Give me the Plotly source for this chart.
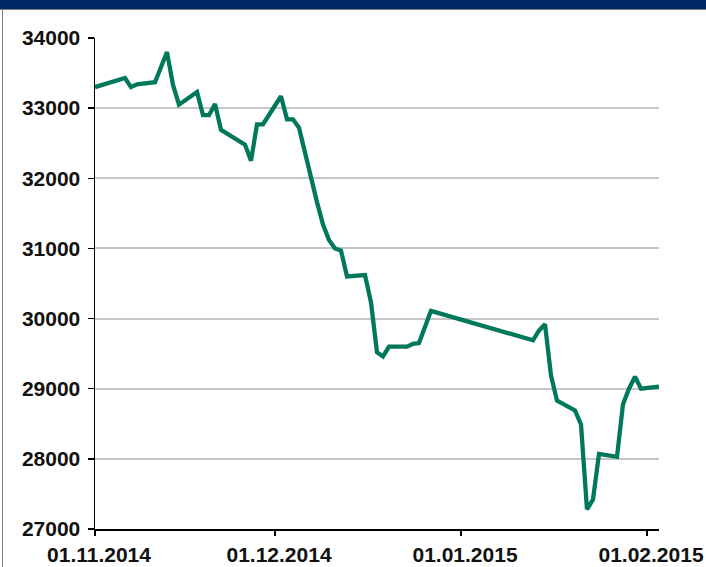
import plotly.graph_objects as go

dates = [
    "2014-11-01", "2014-11-06", "2014-11-07", "2014-11-08", "2014-11-11",
    "2014-11-13", "2014-11-14", "2014-11-15", "2014-11-18", "2014-11-19",
    "2014-11-20", "2014-11-21", "2014-11-22", "2014-11-26", "2014-11-27",
    "2014-11-28", "2014-11-29", "2014-12-02", "2014-12-03", "2014-12-04",
    "2014-12-05", "2014-12-06", "2014-12-07", "2014-12-08", "2014-12-09",
    "2014-12-10", "2014-12-11", "2014-12-12", "2014-12-13", "2014-12-16",
    "2014-12-17", "2014-12-18", "2014-12-19", "2014-12-20", "2014-12-23",
    "2014-12-24", "2014-12-25", "2014-12-27", "2015-01-13", "2015-01-14",
    "2015-01-15", "2015-01-16", "2015-01-17", "2015-01-20", "2015-01-21",
    "2015-01-22", "2015-01-23", "2015-01-24", "2015-01-27", "2015-01-28",
    "2015-01-29", "2015-01-30", "2015-01-31", "2015-02-03",
]
values = [
    33300, 33430, 33300, 33340, 33370,
    33800, 33330, 33050, 33230, 32900,
    32900, 33060, 32690, 32480, 32250,
    32770, 32770, 33170, 32840, 32840,
    32720, 32350, 32010, 31660, 31340,
    31120, 31000, 30970, 30600, 30620,
    30230, 29520, 29460, 29600, 29600,
    29640, 29650, 30110, 29690, 29830,
    29920, 29190, 28830, 28690, 28490,
    27280, 27420, 28070, 28030, 28780,
    29000, 29170, 29000, 29030,
]
x_tick_vals = ["2014-11-01", "2014-12-01", "2015-01-01", "2015-02-01"]
x_tick_text = ["01.11.2014", "01.12.2014", "01.01.2015", "01.02.2015"]
y_tick_vals = [27000, 28000, 29000, 30000, 31000, 32000, 33000, 34000]
y_tick_text = [str(v) for v in y_tick_vals]

W, H = 706, 567
ML, MR, MT, MB = 95, 47, 38, 38
PW, PH = W - ML - MR, H - MT - MB

def px_x(p):
    return (p - ML) / PW

def px_y(p):
    return 1 - (p - MT) / PH

fig = go.Figure()
fig.add_trace(go.Scatter(
    x=dates, y=values, mode="lines",
    line=dict(color="#00785A", width=4.3),
    hoverinfo="skip", showlegend=False,
))

font = dict(family="Liberation Sans, Arial, sans-serif", size=21, color="#111111", weight="bold")

fig.update_layout(
    width=W, height=H,
    margin=dict(l=ML, r=MR, t=MT, b=MB, pad=0, autoexpand=False),
    paper_bgcolor="white", plot_bgcolor="white",
    showlegend=False,
    xaxis=dict(
        type="date", range=["2014-11-01", "2015-02-03"],
        tickvals=x_tick_vals, ticktext=x_tick_text,
        showgrid=False, zeroline=False, automargin=False,
        showline=True, linecolor="black", linewidth=1.5,
        ticks="outside", ticklen=5, tickwidth=1.5, tickcolor="black",
        tickfont=font, ticklabelshift=4, ticklabelstandoff=1,
    ),
    yaxis=dict(
        range=[27000, 34000],
        tickvals=y_tick_vals, ticktext=y_tick_text,
        showgrid=True, gridcolor="#C6C6C6", gridwidth=2,
        zeroline=False, automargin=False,
        showline=True, linecolor="black", linewidth=1.5,
        ticks="outside", ticklen=6, tickwidth=1.5, tickcolor="black",
        tickfont=font, ticklabelstandoff=3,
    ),
    shapes=[
        dict(type="rect", xref="paper", yref="paper",
             x0=px_x(0), x1=px_x(W), y0=px_y(9), y1=px_y(0),
             fillcolor="#002864", line=dict(width=0), layer="above"),
        dict(type="line", xref="paper", yref="paper",
             x0=px_x(0), x1=px_x(W), y0=px_y(9.5), y1=px_y(9.5),
             line=dict(color="#808080", width=1)),
        dict(type="line", xref="paper", yref="paper",
             x0=px_x(2.5), x1=px_x(2.5), y0=px_y(9), y1=px_y(H),
             line=dict(color="#808080", width=1)),
    ],
)

fig.write_html(
    "out.html",
    config={"displayModeBar": False, "staticPlot": True},
    post_script="document.body.style.margin='0';document.body.style.padding='0';",
)
